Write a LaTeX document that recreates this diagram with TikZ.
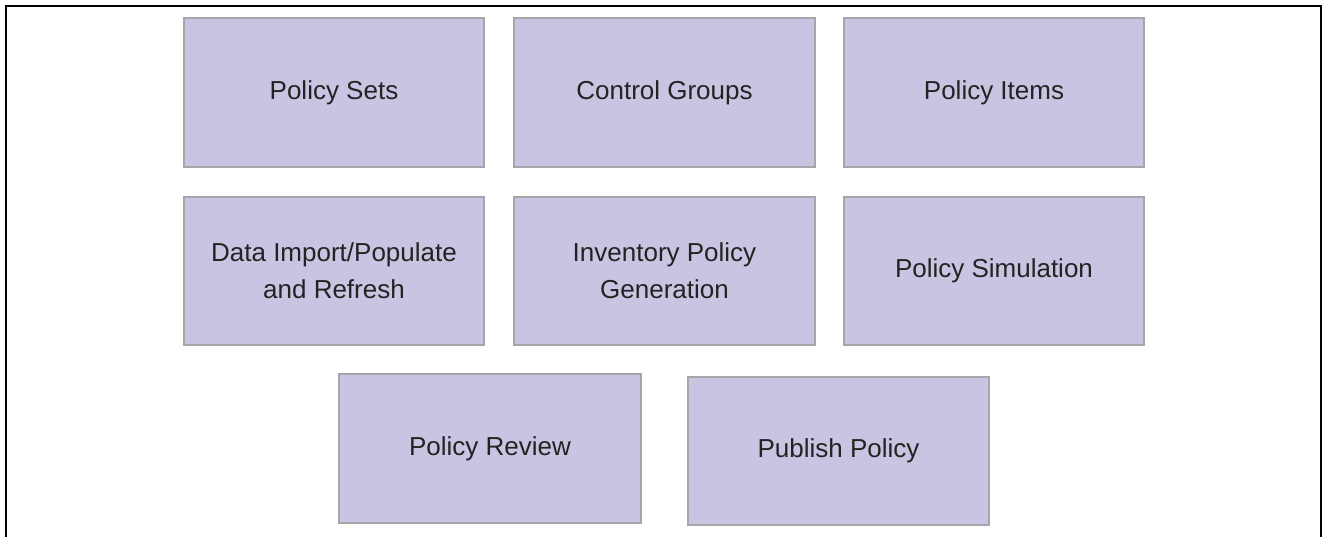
\documentclass[tikz,border=0pt]{standalone}
\usepackage{fontspec}
\setmainfont{Liberation Sans}
\definecolor{boxfill}{RGB}{200,196,225}
\definecolor{boxline}{RGB}{165,165,170}
\definecolor{txt}{RGB}{35,35,35}
\begin{document}
\begin{tikzpicture}[x=0.5pt,y=-0.5pt,
  pbox/.style={draw=boxline, line width=0.6pt, fill=boxfill, rectangle, inner sep=0pt,
    align=center, text=txt, font=\fontsize{13}{18.5}\selectfont},
  frame/.style={line width=1.3pt, draw=black}]
\useasboundingbox (0,0) rectangle (1329,536);
\draw[frame] (6,545) -- (6,6) -- (1321,6) -- (1321,545);
\node[pbox, minimum width=150pt, minimum height=74.5pt] (sets) at (334,92.5) {Policy Sets};
\node[pbox, minimum width=150.5pt, minimum height=74.5pt] (groups) at (664.5,92.5) {Control Groups};
\node[pbox, minimum width=150pt, minimum height=74.5pt] (items) at (994,92.5) {Policy Items};
\node[pbox, minimum width=150pt, minimum height=74pt] (import) at (334,271) {Data Import/Populate\\and Refresh};
\node[pbox, minimum width=150.5pt, minimum height=74pt] (gen) at (664.5,271) {Inventory Policy\\Generation};
\node[pbox, minimum width=150pt, minimum height=74pt] (sim) at (994,271) {Policy Simulation};
\node[pbox, minimum width=151pt, minimum height=74.5pt] (review) at (490,448.5) {Policy Review};
\node[pbox, minimum width=150.5pt, minimum height=74pt] (publish) at (838.5,451) {Publish Policy};
\end{tikzpicture}
\end{document}
